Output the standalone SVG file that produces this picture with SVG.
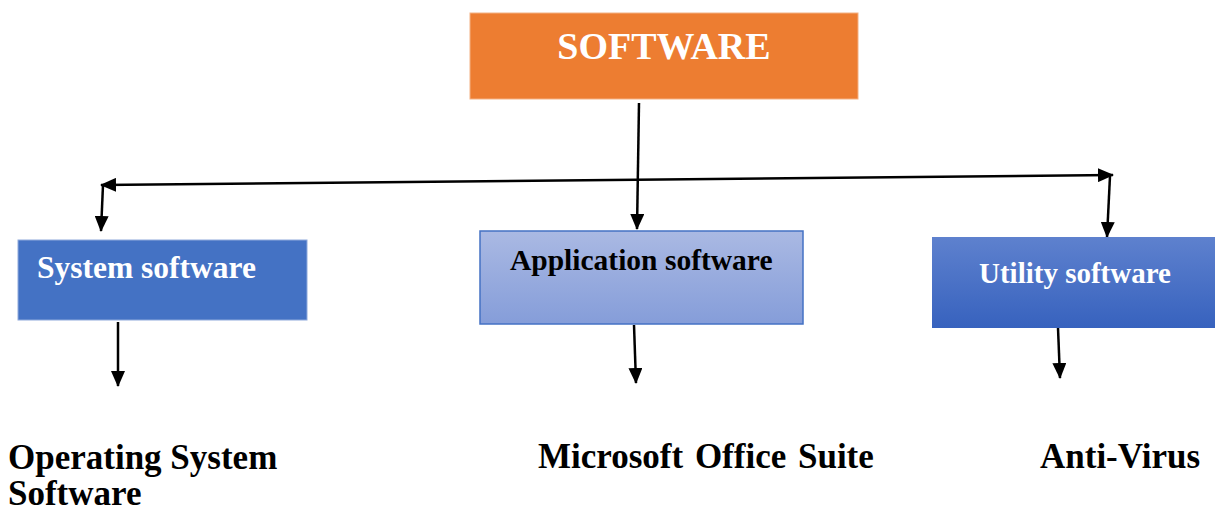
<svg xmlns="http://www.w3.org/2000/svg" width="1215" height="511" viewBox="0 0 1215 511">
<style>
text{font-family:'Liberation Serif','DejaVu Serif',serif;font-weight:bold}
.w{fill:#ffffff}
.k{fill:#000000}
.c{stroke:#000;stroke-width:2.5;fill:none}
</style>
<defs>
<marker id="ah" markerUnits="userSpaceOnUse" markerWidth="16" markerHeight="14" refX="15" refY="7" orient="auto-start-reverse">
<path d="M0,0 L16,7 L0,14 Z" fill="#000"/>
</marker>
<linearGradient id="gApp" x1="0" y1="0" x2="0" y2="1">
<stop offset="0" stop-color="#AAB9E3"/>
<stop offset="1" stop-color="#859DD9"/>
</linearGradient>
<linearGradient id="gUt" x1="0" y1="0" x2="0" y2="1">
<stop offset="0" stop-color="#5E81CE"/>
<stop offset="1" stop-color="#3762BE"/>
</linearGradient>
</defs>
<rect width="1215" height="511" fill="#fff"/>
<g id="connectors">
<line class="c" x1="639" y1="103" x2="637" y2="229" marker-end="url(#ah)"/>
<line class="c" x1="101" y1="185" x2="1113" y2="175" marker-start="url(#ah)" marker-end="url(#ah)"/>
<line class="c" x1="103" y1="185" x2="101" y2="231" marker-end="url(#ah)"/>
<line class="c" x1="1110" y1="176" x2="1107" y2="237" marker-end="url(#ah)"/>
<line class="c" x1="118" y1="322" x2="118" y2="386" marker-end="url(#ah)"/>
<line class="c" x1="634" y1="325" x2="636" y2="383" marker-end="url(#ah)"/>
<line class="c" x1="1058" y1="328" x2="1060" y2="378" marker-end="url(#ah)"/>
</g>
<g id="software">
<rect x="470" y="13" width="388" height="86" fill="#ED7D31" stroke="#F4B183" stroke-width="1"/>
<text class="w" x="664" y="59" font-size="38" text-anchor="middle" font-family="Liberation Serif, serif">SOFTWARE</text>
</g>
<g id="system">
<rect x="18" y="240" width="289" height="80" fill="#4472C4" stroke="#8FAADC" stroke-width="1"/>
<text class="w" x="37" y="278" font-size="31.5" font-family="Liberation Serif, serif">System software</text>
</g>
<g id="application">
<rect x="480" y="231" width="323" height="93" fill="url(#gApp)" stroke="#4472C4" stroke-width="1.5"/>
<text class="k" x="510" y="270" font-size="29.5" font-family="Liberation Serif, serif">Application software</text>
</g>
<g id="utility">
<rect x="932" y="237" width="285" height="91" fill="url(#gUt)"/>
<text class="w" x="979" y="283" font-size="29" font-family="Liberation Serif, serif">Utility software</text>
</g>
<g id="os">
<text class="k" x="8" y="469" font-size="35" font-family="Liberation Serif, serif">Operating System</text>
<text class="k" x="8" y="505" font-size="35" font-family="Liberation Serif, serif">Software</text>
</g>
<g id="office">
<text class="k" x="538" y="468" font-size="35" word-spacing="3" font-family="Liberation Serif, serif">Microsoft Office Suite</text>
</g>
<g id="antivirus">
<text class="k" x="1040" y="468" font-size="35" font-family="Liberation Serif, serif">Anti-Virus</text>
</g>
</svg>
